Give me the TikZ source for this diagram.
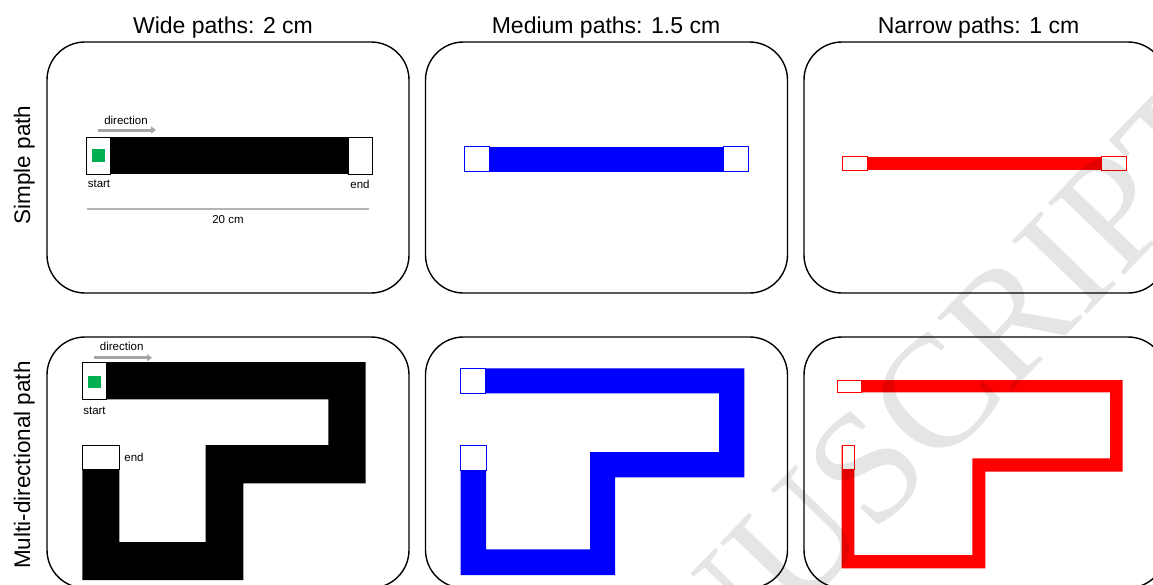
\documentclass[tikz,border=0pt]{standalone}
\usepackage{fontspec}
\setmainfont{Liberation Sans}
\newfontfamily\wmfont{Liberation Serif}
\usetikzlibrary{arrows.meta}
\definecolor{pgreen}{HTML}{00B050}
\definecolor{pgrey}{HTML}{A6A6A6}
\definecolor{lgrey}{HTML}{B4B4B4}
\tikzset{
  panel/.style={draw=black, line width=1.4pt, rounded corners=38pt, minimum width=362pt, minimum height=251pt, inner sep=0pt, fill=none},
  coltitle/.style={font=\fontsize{23}{26}\selectfont, anchor=base, inner sep=0pt},
  rowtitle/.style={font=\fontsize{22.5}{26}\selectfont, anchor=base, rotate=90, inner sep=0pt},
  small/.style={font=\fontsize{11.5}{13}\selectfont, inner sep=0pt},
  dirarrow/.style={draw=pgrey, line width=3pt, -{Triangle[length=5pt,width=7pt]}},
  endbox/.style={fill=white, draw=#1, line width=0.8pt},
}
\begin{document}
\begin{tikzpicture}[x=1pt,y=-1pt]
\clip (0,0) rectangle (1153,584);
\fill[white] (0,0) rectangle (1153,584);

% column titles
\node[coltitle] (t1) at (223,33) {Wide paths: 2 cm};
\node[coltitle] (t2) at (606,33) {Medium paths: 1.5 cm};
\node[coltitle] (t3) at (978.5,33) {Narrow paths: 1 cm};

% row titles
\node[rowtitle] (r1) at (30,165) {Simple path};
\node[rowtitle] (r2) at (30,465) {Multi-directional path};

% panels
\node[panel] (p11) at (228,167.5) {};
\node[panel] (p12) at (606.5,167.5) {};
\node[panel] (p13) at (985,167.5) {};
\node[panel] (p21) at (228,462.5) {};
\node[panel] (p22) at (606.5,462.5) {};
\node[panel] (p23) at (985,462.5) {};

% ---------- simple paths ----------
% wide
\fill[black] (86,137) rectangle (372,174);
\draw[endbox=black] (86,137) rectangle (110,174);
\draw[endbox=black] (348,137) rectangle (372,174);
\fill[pgreen] (91.7,149) rectangle (105,162);
\node[small] (d1) at (126,120) {direction};
\coordinate (d1a) at (98,130);
\coordinate (d1b) at (156,130);
\draw[dirarrow] (d1a) -- (d1b);
\node[small] (s1) at (99,184) {start};
\node[small] (e1) at (360,184) {end};
\coordinate (m1a) at (87,209);
\coordinate (m1b) at (369,209);
\draw[lgrey, line width=2pt] (m1a) -- (m1b);
\node[small] (m1) at (228,219.5) {20 cm};

% medium
\fill[blue] (464.3,146.7) rectangle (748.3,171.7);
\draw[endbox=blue] (464.3,146.7) rectangle (489,171.7);
\draw[endbox=blue] (723.7,146.7) rectangle (748.3,171.7);

% narrow
\fill[red] (842.7,156.7) rectangle (1126.7,170);
\draw[endbox=red] (842.7,156.7) rectangle (867.3,170);
\draw[endbox=red] (1101.7,156.7) rectangle (1126.7,170);

% ---------- multi-directional paths ----------
% wide
\fill[black] (82,362) -- (365.7,362) -- (365.7,483.3) -- (243.3,483.3) -- (243.3,580) -- (82.3,580) -- (82.3,445.7) -- (119.3,445.7) -- (119.3,542) -- (205.7,542) -- (205.7,445) -- (328.3,445) -- (328.3,399.3) -- (82,399.3) -- cycle;
\draw[endbox=black] (82,362) rectangle (106,399.3);
\fill[pgreen] (87.7,375.7) rectangle (101,388);
\draw[endbox=black] (82.3,445.7) rectangle (119.3,469.3);
\node[small] (d2) at (121.7,346.7) {direction};
\coordinate (d2a) at (94.3,357.7);
\coordinate (d2b) at (152,357.7);
\draw[dirarrow] (d2a) -- (d2b);
\node[small] (s2) at (94.5,410.7) {start};
\node[small] (e2) at (134,457.7) {end};

% medium
\fill[blue] (460.7,368.3) -- (744.3,368.3) -- (744.3,477.3) -- (615,477.3) -- (615,575) -- (460.7,575) -- (460.7,445.7) -- (486,445.7) -- (486,549.3) -- (590,549.3) -- (590,452) -- (719,452) -- (719,393.3) -- (460.7,393.3) -- cycle;
\draw[endbox=blue] (460.7,368.3) rectangle (485.7,393.3);
\draw[endbox=blue] (460.7,445.7) rectangle (486,470);

% narrow
\fill[red] (837.7,380) -- (1122.7,380) -- (1122.7,471.7) -- (985.3,471.7) -- (985.3,568.3) -- (841.7,568.3) -- (841.7,445.7) -- (854.3,445.7) -- (854.3,555) -- (972.3,555) -- (972.3,458.3) -- (1110,458.3) -- (1110,392.3) -- (837.7,392.3) -- cycle;
\draw[endbox=red] (837.7,380) rectangle (861.7,392.3);
\draw[endbox=red] (842.7,445.7) rectangle (854,469.3);

% watermark
\node[font=\wmfont\fontsize{160}{160}\selectfont, text=black, text opacity=0.1, rotate=46, inner sep=0pt] (wm) at (855,480) {MANUSCRIPT};
\end{tikzpicture}
\end{document}
